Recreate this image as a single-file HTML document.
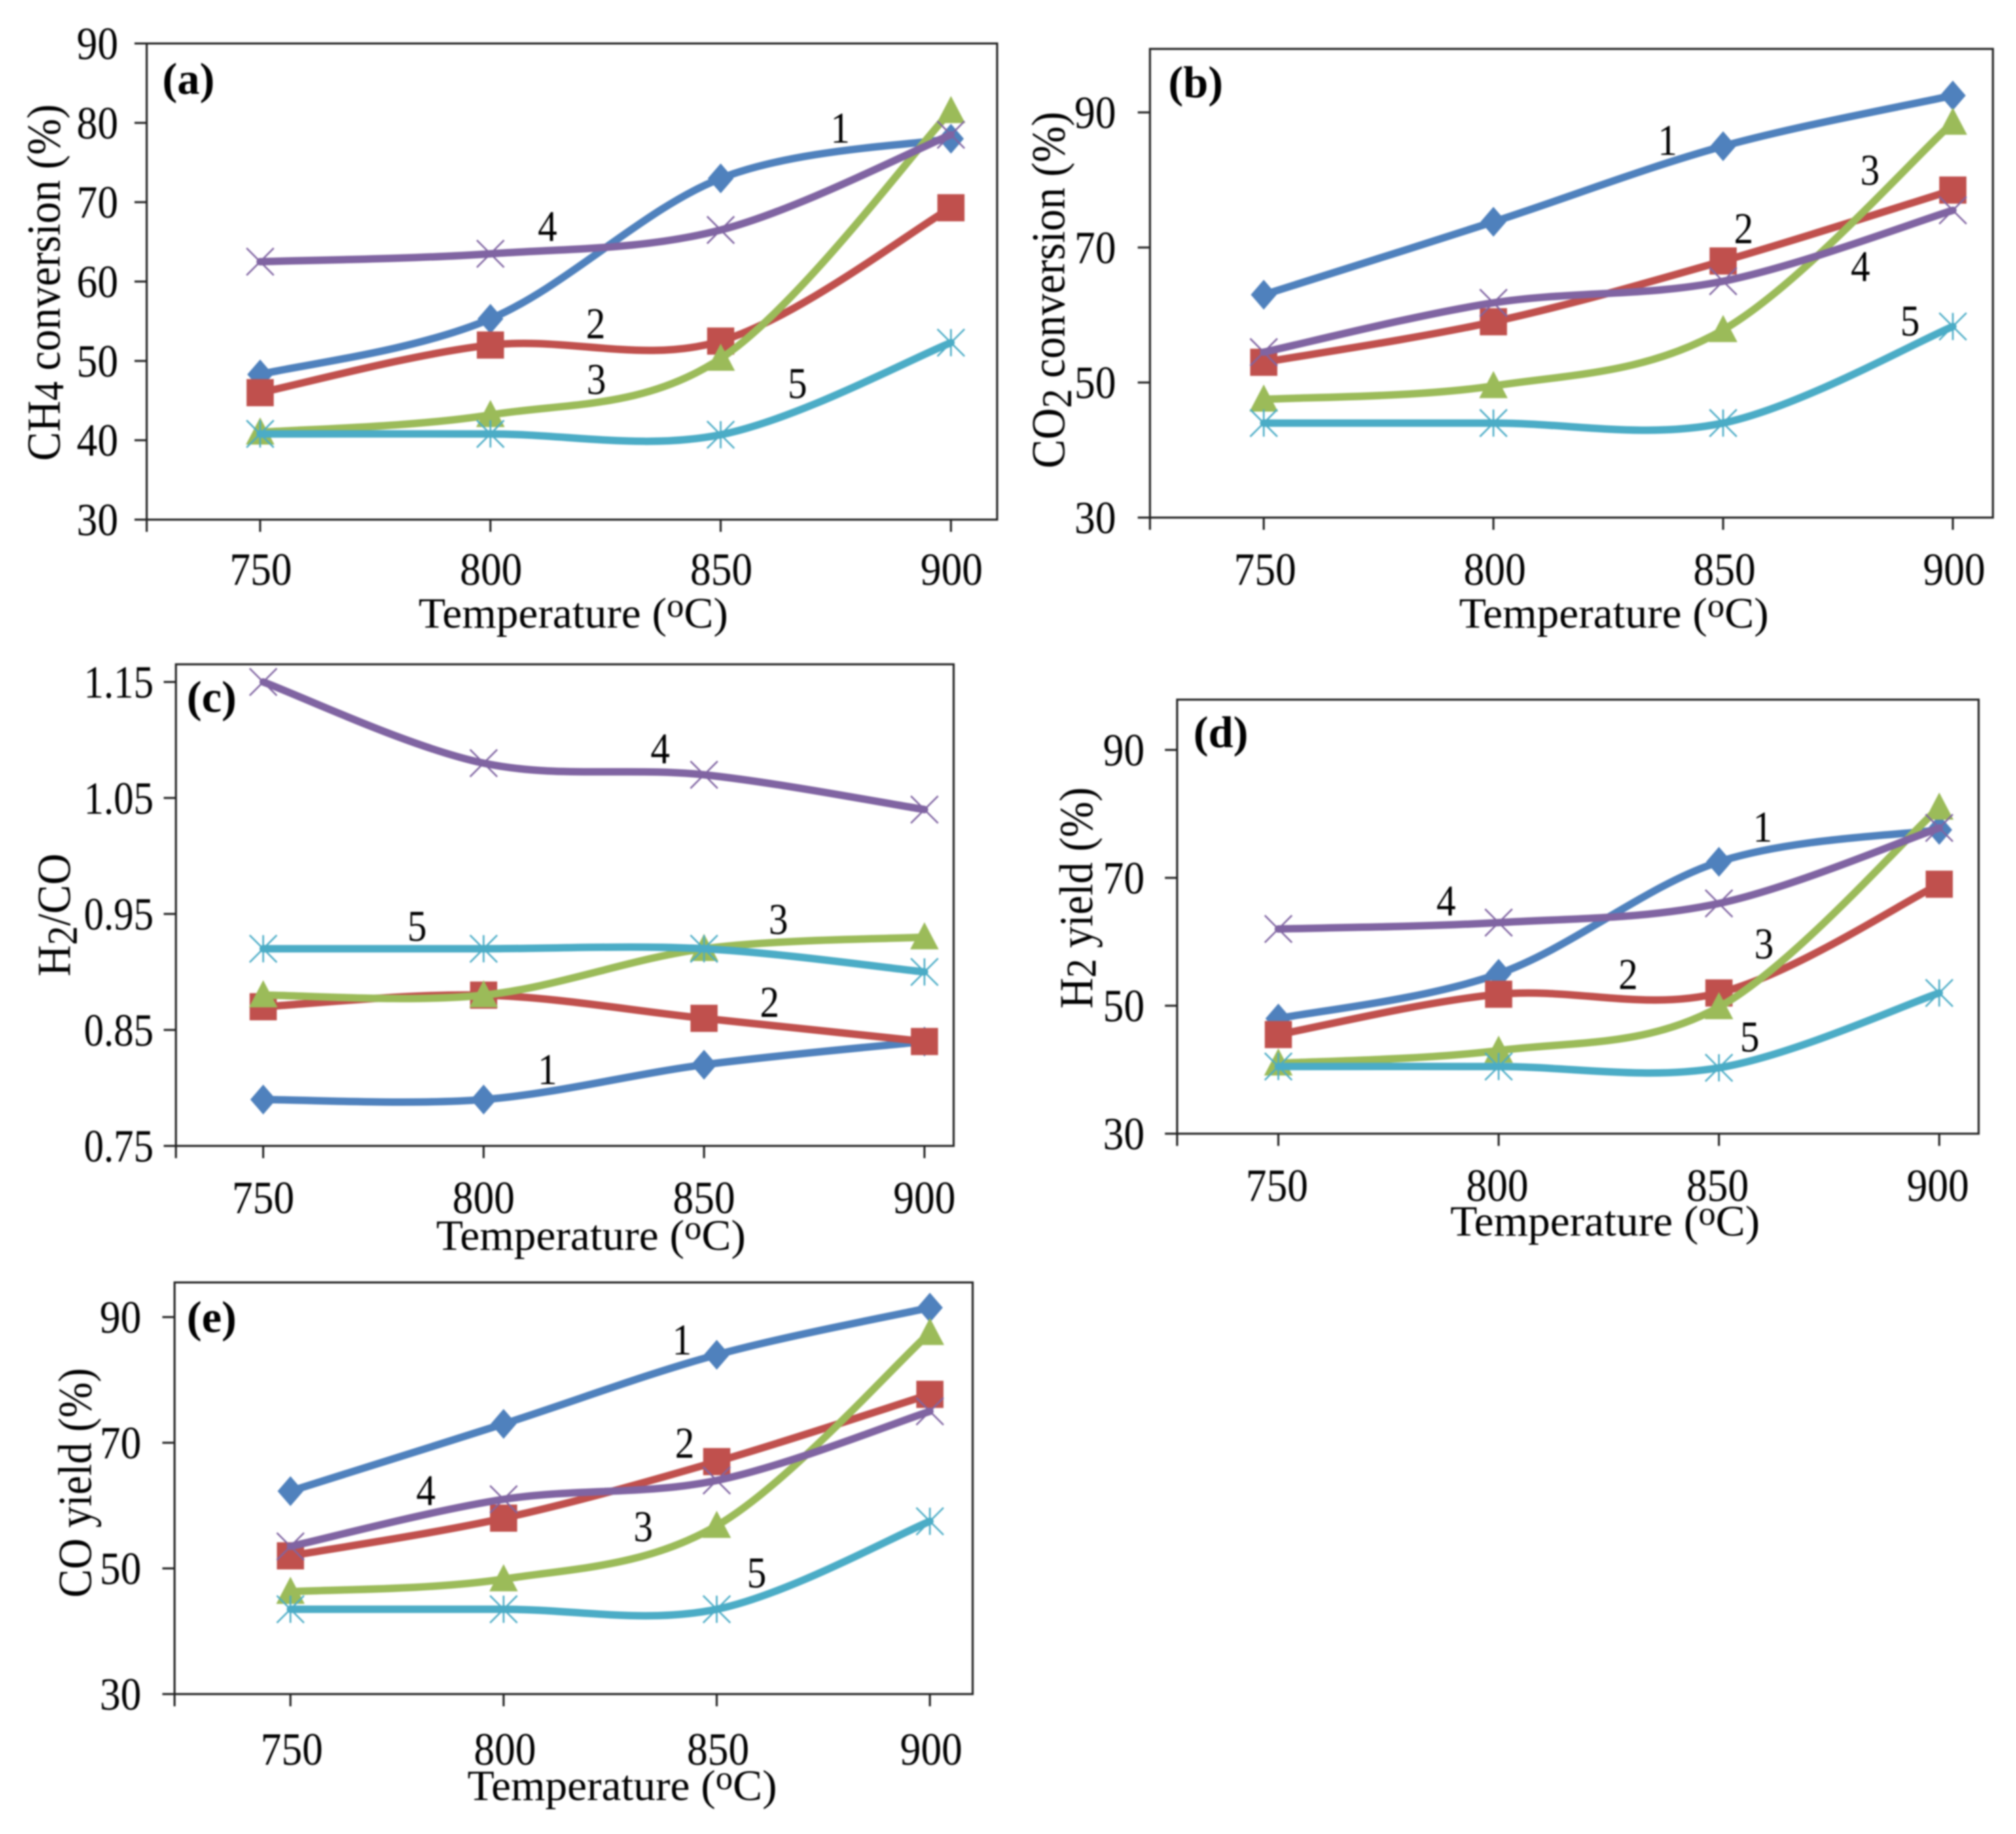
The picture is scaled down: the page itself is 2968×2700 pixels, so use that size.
<!DOCTYPE html>
<html lang="en">
<head>
<meta charset="utf-8">
<title>Catalyst performance versus temperature</title>
<style>
  html, body { margin: 0; padding: 0; background: #fff; }
  #figure { display: block; width: 2968px; height: 2700px; filter: blur(1px); }
  text { font-family: "Liberation Serif", serif; fill: #000; }
</style>
</head>
<body>
<svg id="figure" xmlns="http://www.w3.org/2000/svg" width="2968" height="2700" viewBox="0 0 2968 2700">
  <rect x="0" y="0" width="2968" height="2700" fill="#ffffff"/>
</svg>
<script>
// ---- chart data ----
const temperatures = [750, 800, 850, 900];

const ch4Series1 = [48.3, 55.3, 73, 78];
const ch4Series2 = [46, 52, 52.5, 69.3];
const ch4Series3 = [41, 43.2, 50.3, 81.5];
const ch4Series4 = [62.5, 63.5, 66.5, 78.5];
const ch4Series5 = [40.8, 40.8, 40.7, 52.3];
const ch4Ticks = [30, 40, 50, 60, 70, 80, 90];

const co2Series1 = [63, 73.8, 85, 92.5];
const co2Series2 = [53, 59, 68, 78.5];
const co2Series3 = [47.5, 49.5, 57.8, 88.5];
const co2Series4 = [54.5, 61.8, 65, 75.5];
const co2Series5 = [44, 44, 44, 58.3];
const co2Ticks = [30, 50, 70, 90];

const ratioSeries1 = [0.79, 0.79, 0.82, 0.84];
const ratioSeries2 = [0.87, 0.88, 0.86, 0.84];
const ratioSeries3 = [0.88, 0.88, 0.92, 0.93];
const ratioSeries4 = [1.15, 1.08, 1.07, 1.04];
const ratioSeries5 = [0.92, 0.92, 0.92, 0.90];
const ratioTicks = [0.75, 0.85, 0.95, 1.05, 1.15];

const h2Series1 = [48, 55, 72.5, 77.5];
const h2Series2 = [45.5, 51.8, 52, 69];
const h2Series3 = [41, 43, 49.8, 81];
const h2Series4 = [62, 63, 66, 77.8];
const h2Series5 = [40.5, 40.5, 40.3, 52];
const h2Ticks = [30, 50, 70, 90];

const coSeries1 = [62.3, 73, 84, 91.5];
const coSeries2 = [52, 58, 67, 77.7];
const coSeries3 = [46.3, 48.3, 56.8, 87.5];
const coSeries4 = [53.5, 61, 64, 75];
const coSeries5 = [43.5, 43.5, 43.5, 57.5];
const coTicks = [30, 50, 70, 90];

// ---- series styling ----
const seriesColors = ['#4F81BD', '#C0504D', '#9BBB59', '#8064A2', '#4BACC6'];
const seriesMarkers = ['diamond', 'square', 'triangle', 'cross', 'star'];

// ---- panel layout ----
const panels = [
  {
    id: 'a', left: 216, right: 1468, top: 64, bottom: 765,
    x0: 383, x3: 1400, yMin: 30, yMax: 90, yAtMin: 765, yAtMax: 64,
    series: [ch4Series1, ch4Series2, ch4Series3, ch4Series4, ch4Series5],
    ticks: ch4Ticks, decimals: 0, yLabelScale: 0.97,
    yLabelRight: 174, xLabelBase: 861, xLabelDx: 1,
    xTitleX: 844, xTitleBase: 924, xTitleLen: 456,
    yTitle: ['CH', '4', ' conversion (%)'], subDy: 5, yTitleX: 88, yTitleY: 416, yTitleLen: 525,
    tagX: 239, tagBase: 138,
    notes: [['1', 1237, 189], ['2', 877, 477], ['3', 878, 559], ['4', 806, 334], ['5', 1174, 565]]
  },
  {
    id: 'b', left: 1693, right: 2934, top: 72, bottom: 762,
    x0: 1860.5, x3: 2875, yMin: 30, yMax: 90, yAtMin: 762, yAtMax: 165.5,
    series: [co2Series1, co2Series2, co2Series3, co2Series4, co2Series5],
    ticks: co2Ticks, decimals: 0, yLabelScale: 0.97,
    yLabelRight: 1643, xLabelBase: 861, xLabelDx: 2,
    xTitleX: 2376, xTitleBase: 924, xTitleLen: 456,
    yTitle: ['CO', '2', ' conversion (%)'], subDy: 10, yTitleX: 1567, yTitleY: 427, yTitleLen: 525,
    tagX: 1720, tagBase: 143,
    notes: [['1', 2455, 207], ['2', 2567, 337], ['3', 2753, 251], ['4', 2739, 393], ['5', 2812, 473]]
  },
  {
    id: 'c', left: 259, right: 1404, top: 978, bottom: 1687,
    x0: 387.5, x3: 1361, yMin: 0.75, yMax: 1.15, yAtMin: 1687, yAtMax: 1004,
    series: [ratioSeries1, ratioSeries2, ratioSeries3, ratioSeries4, ratioSeries5],
    ticks: ratioTicks, decimals: 2, yLabelScale: 0.93,
    yLabelRight: 226, xLabelBase: 1786, xLabelDx: 0,
    xTitleX: 870, xTitleBase: 1840, xTitleLen: 456,
    yTitle: ['H', '2', '/CO'], subDy: 10, yTitleX: 103, yTitleY: 1347, yTitleLen: 181,
    tagX: 275, tagBase: 1048,
    notes: [['1', 806, 1575], ['2', 1133, 1476], ['3', 1146, 1354], ['4', 972, 1103], ['5', 614, 1364]]
  },
  {
    id: 'd', left: 1733, right: 2913, top: 1030, bottom: 1669,
    x0: 1882, x3: 2855, yMin: 30, yMax: 90, yAtMin: 1669, yAtMax: 1104,
    series: [h2Series1, h2Series2, h2Series3, h2Series4, h2Series5],
    ticks: h2Ticks, decimals: 0, yLabelScale: 0.97,
    yLabelRight: 1685, xLabelBase: 1768, xLabelDx: -2,
    xTitleX: 2363, xTitleBase: 1819, xTitleLen: 456,
    yTitle: ['H', '2', ' yield (%)'], subDy: 5, yTitleX: 1608, yTitleY: 1322, yTitleLen: 326,
    tagX: 1757, tagBase: 1100,
    notes: [['1', 2595, 1218], ['2', 2397, 1435], ['3', 2597, 1390], ['4', 2129, 1327], ['5', 2576, 1527]]
  },
  {
    id: 'e', left: 257, right: 1432, top: 1888, bottom: 2494,
    x0: 427.6, x3: 1369, yMin: 30, yMax: 90, yAtMin: 2494, yAtMax: 1939,
    series: [coSeries1, coSeries2, coSeries3, coSeries4, coSeries5],
    ticks: coTicks, decimals: 0, yLabelScale: 0.97,
    yLabelRight: 208, xLabelBase: 2598, xLabelDx: 2,
    xTitleX: 916, xTitleBase: 2650, xTitleLen: 456,
    yTitle: ['CO yield (%)'], subDy: 0, yTitleX: 134, yTitleY: 2183, yTitleLen: 338,
    tagX: 275, tagBase: 1961,
    notes: [['1', 1004, 1973], ['2', 1008, 2125], ['3', 947, 2248], ['4', 627, 2195], ['5', 1114, 2316]]
  }
];

// ---- drawing helpers ----
const NS = 'http://www.w3.org/2000/svg';
const figure = document.getElementById('figure');

function make(tag, parent, attrs) {
  const el = document.createElementNS(NS, tag);
  for (const key in attrs) el.setAttribute(key, attrs[key]);
  parent.appendChild(el);
  return el;
}

function smoothPath(points) {
  let d = 'M' + points[0][0] + ' ' + points[0][1];
  for (let i = 0; i < points.length - 1; i++) {
    const p0 = points[Math.max(i - 1, 0)];
    const p1 = points[i];
    const p2 = points[i + 1];
    const p3 = points[Math.min(i + 2, points.length - 1)];
    const c1x = p1[0] + (p2[0] - p0[0]) / 6;
    const c1y = p1[1] + (p2[1] - p0[1]) / 6;
    const c2x = p2[0] - (p3[0] - p1[0]) / 6;
    const c2y = p2[1] - (p3[1] - p1[1]) / 6;
    d += ' C' + c1x + ' ' + c1y + ' ' + c2x + ' ' + c2y + ' ' + p2[0] + ' ' + p2[1];
  }
  return d;
}

function drawMarker(parent, kind, x, y, color) {
  const g = make('g', parent, { fill: color, stroke: color });
  if (kind === 'diamond') {
    make('polygon', g, { points: (x - 19) + ',' + y + ' ' + x + ',' + (y - 22) + ' ' + (x + 19) + ',' + y + ' ' + x + ',' + (y + 22), stroke: 'none' });
  } else if (kind === 'square') {
    make('rect', g, { x: x - 20, y: y - 20, width: 40, height: 40, stroke: 'none' });
  } else if (kind === 'triangle') {
    make('polygon', g, { points: (x - 21) + ',' + (y + 18) + ' ' + x + ',' + (y - 22) + ' ' + (x + 21) + ',' + (y + 18), stroke: 'none' });
  } else {
    make('line', g, { x1: x - 20, y1: y - 20, x2: x + 20, y2: y + 20, 'stroke-width': 2.5 });
    make('line', g, { x1: x - 20, y1: y + 20, x2: x + 20, y2: y - 20, 'stroke-width': 2.5 });
    if (kind === 'star') {
      make('line', g, { x1: x, y1: y - 20, x2: x, y2: y + 20, 'stroke-width': 2.5 });
    }
  }
  return g;
}

function fitText(el, x, y, target, rotated) {
  const natural = el.getComputedTextLength();
  const sx = natural > 0 ? target / natural : 1;
  const spin = rotated ? ' rotate(-90)' : '';
  el.setAttribute('transform', 'translate(' + x + ' ' + y + ')' + spin + ' scale(' + sx + ' 1)');
}

// ---- draw each panel ----
panels.forEach(function (p) {
  const xScale = function (index) {
    return p.x0 + (p.x3 - p.x0) * index / (temperatures.length - 1);
  };
  const yScale = function (value) {
    return p.yAtMin + (value - p.yMin) * (p.yAtMax - p.yAtMin) / (p.yMax - p.yMin);
  };

  const panel = make('g', figure, {});
  
  

  const frame = make('rect', panel, {
    x: p.left, y: p.top, width: p.right - p.left, height: p.bottom - p.top,
    fill: 'none', stroke: '#222', 'stroke-width': 3
  });
  
  

  // y axis ticks and labels
  p.ticks.forEach(function (value) {
    const y = yScale(value);
    const tick = make('line', panel, { x1: p.left - 18, y1: y, x2: p.left, y2: y, stroke: '#222', 'stroke-width': 3 });
    
    
    const label = make('text', panel, {
      'text-anchor': 'end', 'font-size': 63,
      transform: 'translate(' + p.yLabelRight + ' ' + (y + 23) + ') scale(' + p.yLabelScale + ' 1.08)'
    });
    label.textContent = value.toFixed(p.decimals);
    
    
  });

  // x axis ticks and labels
  const originTick = make('line', panel, { x1: p.left, y1: p.bottom, x2: p.left, y2: p.bottom + 18, stroke: '#222', 'stroke-width': 3 });
  
  

  temperatures.forEach(function (temperature, index) {
    const x = xScale(index);
    const tick = make('line', panel, { x1: x, y1: p.bottom, x2: x, y2: p.bottom + 18, stroke: '#222', 'stroke-width': 3 });
    
    
    const label = make('text', panel, {
      'text-anchor': 'middle', 'font-size': 63,
      transform: 'translate(' + (x + p.xLabelDx) + ' ' + p.xLabelBase + ') scale(0.97 1.08)'
    });
    label.textContent = String(temperature);
    
    
  });

  // x axis title
  const xTitle = make('text', panel, { 'text-anchor': 'middle', 'font-size': 64 });
  
  
  make('tspan', xTitle, {}).textContent = 'Temperature (';
  make('tspan', xTitle, { 'font-size': 50, dy: -16 }).textContent = 'o';
  make('tspan', xTitle, { dy: 16 }).textContent = 'C)';
  fitText(xTitle, p.xTitleX, p.xTitleBase, p.xTitleLen, false);

  // y axis title
  const yTitle = make('text', panel, { 'text-anchor': 'middle', 'font-size': 70 });
  
  
  if (p.yTitle.length === 3) {
    make('tspan', yTitle, {}).textContent = p.yTitle[0];
    make('tspan', yTitle, { 'font-size': 62, dy: p.subDy }).textContent = p.yTitle[1];
    make('tspan', yTitle, { dy: -p.subDy }).textContent = p.yTitle[2];
  } else {
    yTitle.textContent = p.yTitle[0];
  }
  fitText(yTitle, p.yTitleX, p.yTitleY, p.yTitleLen, true);

  // series lines and markers
  p.series.forEach(function (values, s) {
    const group = make('g', panel, {});
    
    

    const points = values.map(function (value, index) {
      return [xScale(index), yScale(value)];
    });

    const line = make('path', group, {
      d: smoothPath(points), fill: 'none', stroke: seriesColors[s],
      'stroke-width': 11, 'stroke-linecap': 'round', 'stroke-linejoin': 'round'
    });
    
    

    points.forEach(function (point) {
      const marker = drawMarker(group, seriesMarkers[s], point[0], point[1], seriesColors[s]);
      
      
    });
  });

  // series number annotations
  p.notes.forEach(function (note) {
    const text = make('text', panel, {
      'text-anchor': 'middle', 'font-size': 60,
      transform: 'translate(' + note[1] + ' ' + (note[2] + 21) + ') scale(0.95 1.08)'
    });
    text.textContent = note[0];
    
    
  });

  // panel tag
  const tag = make('text', panel, {
    x: p.tagX, y: p.tagBase, 'font-size': 66, 'font-weight': 'bold'
  });
  tag.textContent = '(' + p.id + ')';
  
  
});
</script>
</body>
</html>
